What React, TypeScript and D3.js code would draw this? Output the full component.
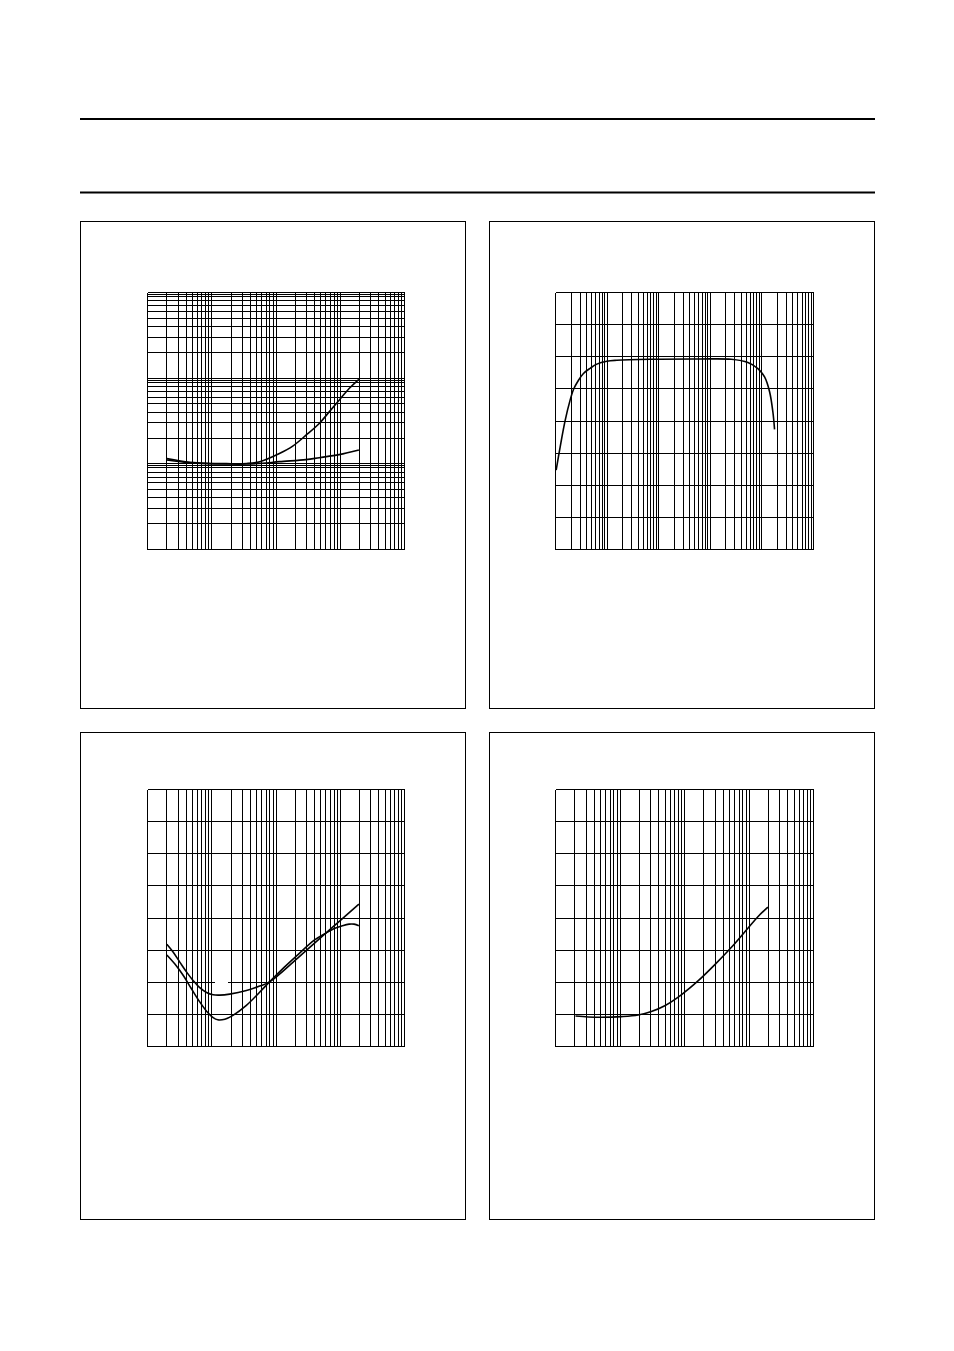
import React from "react";
import * as d3 from "d3";

// ---------- data ----------
// Panel 1 (top-left): log x (1..1e4), log y (1..1000)
const p1UpperX = [2, 2.85, 4.6, 8.3, 17, 35, 56, 113, 182, 293, 471, 673, 961, 1374, 1950];
const p1UpperY = [11.5, 11.0, 10.45, 10.15, 10.05, 10.1, 10.6, 13.2, 16.1, 21.6, 29.6, 40.4, 55.3, 75.7, 97];
const p1LowerX = [2, 4.6, 8.3, 17, 35, 62, 113, 293, 471, 961, 1950];
const p1LowerY = [11.1, 10.3, 10.05, 9.95, 9.95, 10.15, 10.6, 11.2, 11.8, 12.8, 14.5];

// Panel 2 (top-right): log x (1..1e5), linear y (0..8 divisions)
const p2X = [1.03, 1.23, 1.54, 1.92, 2.23, 2.79, 3.48, 4.69, 6.32, 9.88, 15.4, 68, 631, 2545, 5355, 8360, 11270, 14090, 16330, 17590];
const p2Y = [2.47, 3.19, 4.02, 4.65, 4.98, 5.27, 5.48, 5.64, 5.77, 5.86, 5.89, 5.92, 5.93, 5.92, 5.82, 5.63, 5.37, 4.91, 4.28, 3.74];

// Panel 3 (bottom-left): log x (1..1e4), linear y (0..8)
const p3AX = [2, 2.5, 3.2, 4.12, 5.15, 6.5, 8.3, 10.5, 13.3, 19, 34.6, 55.6, 79.3, 231, 673, 1950];
const p3AY = [3.18, 2.94, 2.62, 2.3, 2.05, 1.83, 1.68, 1.61, 1.6, 1.63, 1.74, 1.88, 2.01, 2.8, 3.62, 4.43];
const p3BX = [2, 2.69, 3.61, 4.75, 6.54, 8.3, 10.5, 12.4, 16, 21.4, 34.6, 55.6, 79.3, 135, 231, 394, 598, 805, 1082, 1374, 1641, 1950];
const p3BY = [2.85, 2.56, 2.21, 1.82, 1.38, 1.1, 0.9, 0.83, 0.85, 0.97, 1.28, 1.69, 2.01, 2.47, 2.9, 3.31, 3.53, 3.67, 3.76, 3.81, 3.81, 3.76];
const p3GapLine = 2;
const p3GapX: [number, number] = [11.2, 17.9];

// Panel 4 (bottom-right): log x (1..1e4), linear y (0..8)
const p4X = [2.04, 3.21, 5.15, 10.5, 19.1, 30.6, 49.4, 89.2, 162, 293, 530, 961, 1374, 1963];
const p4Y = [0.95, 0.92, 0.91, 0.93, 0.98, 1.09, 1.27, 1.61, 2.04, 2.54, 3.08, 3.68, 4.04, 4.34];

// grid tick definitions
const logMultiples = [1, 2, 3, 4, 5, 6, 7, 8, 9];
const p1ExtraMultiples = [9.5];
const linearDivisions = [0, 1, 2, 3, 4, 5, 6, 7, 8];

// ---------- layout ----------
const W = 954;
const H = 1351;

function logGrid(lo: number, hi: number, extra: number[] = []) {
  const out: number[] = [];
  const d0 = Math.round(Math.log10(lo));
  const d1 = Math.round(Math.log10(hi));
  for (let d = d0; d < d1; d++) {
    for (const k of logMultiples) out.push(k * Math.pow(10, d));
    for (const k of extra) out.push(k * Math.pow(10, d));
  }
  out.push(hi);
  return out;
}

type Series = { x: number[]; y: number[] };
type Panel = {
  box: [number, number, number, number];
  plot: [number, number, number, number];
  xDomain: [number, number];
  yLog: boolean;
  yDomain: [number, number];
  yExtra?: number[];
  series: Series[];
  gap?: { y: number; x: [number, number] };
};

const panels: Panel[] = [
  {
    box: [80.5, 221.5, 385, 487],
    plot: [147.5, 292.5, 257, 257],
    xDomain: [1, 1e4],
    yLog: true,
    yDomain: [1, 1000],
    yExtra: p1ExtraMultiples,
    series: [
      { x: p1UpperX, y: p1UpperY },
      { x: p1LowerX, y: p1LowerY },
    ],
  },
  {
    box: [489.5, 221.5, 385, 487],
    plot: [555.5, 292.5, 258, 257],
    xDomain: [1, 1e5],
    yLog: false,
    yDomain: [0, 8],
    series: [{ x: p2X, y: p2Y }],
  },
  {
    box: [80.5, 732.5, 385, 487],
    plot: [147.5, 789.5, 257, 257],
    xDomain: [1, 1e4],
    yLog: false,
    yDomain: [0, 8],
    series: [
      { x: p3AX, y: p3AY },
      { x: p3BX, y: p3BY },
    ],
    gap: { y: p3GapLine, x: p3GapX },
  },
  {
    box: [489.5, 732.5, 385, 487],
    plot: [555.5, 789.5, 258, 257],
    xDomain: [1, 1e4],
    yLog: false,
    yDomain: [0, 8],
    series: [{ x: p4X, y: p4Y }],
  },
];

function PanelView({ p }: { p: Panel }) {
  const [px, py, pw, ph] = p.plot;
  const x = d3.scaleLog().domain(p.xDomain).range([px, px + pw]);
  const y: any = p.yLog
    ? d3.scaleLog().domain(p.yDomain).range([py + ph, py])
    : d3.scaleLinear().domain(p.yDomain).range([py + ph, py]);
  const xTicks = logGrid(p.xDomain[0], p.xDomain[1]);
  const yTicks = p.yLog ? logGrid(p.yDomain[0], p.yDomain[1], p.yExtra || []) : linearDivisions;
  const line = d3
    .line<[number, number]>()
    .x((d) => x(d[0]))
    .y((d) => y(d[1]))
    .curve(d3.curveCatmullRom.alpha(0.5));
  const [bx, by, bw, bh] = p.box;
  const gl = { stroke: "#000", strokeWidth: 1, shapeRendering: "crispEdges" as const };
  return (
    <g>
      <rect x={bx} y={by} width={bw} height={bh} fill="none" {...gl} />
      {xTicks.map((t, i) => (
        <line key={"vx" + i} x1={x(t)} x2={x(t)} y1={py} y2={py + ph} {...gl} />
      ))}
      {yTicks.map((t, i) => {
        if (p.gap && t === p.gap.y) {
          return (
            <g key={"hy" + i}>
              <line x1={px} x2={x(p.gap.x[0])} y1={y(t)} y2={y(t)} {...gl} />
              <line x1={x(p.gap.x[1])} x2={px + pw} y1={y(t)} y2={y(t)} {...gl} />
            </g>
          );
        }
        return <line key={"hy" + i} x1={px} x2={px + pw} y1={y(t)} y2={y(t)} {...gl} />;
      })}
      {p.series.map((s, i) => {
        const pts = s.x.map((v, j) => [v, s.y[j]] as [number, number]);
        return <path key={"s" + i} d={line(pts) || ""} fill="none" stroke="#000" strokeWidth={1.6} />;
      })}
    </g>
  );
}

export default function App() {
  return (
    <svg
      width={W}
      height={H}
      viewBox={`0 0 ${W} ${H}`}
      style={{ position: "absolute", left: 0, top: 0, background: "#fff" }}
    >
      <rect x={0} y={0} width={W} height={H} fill="#fff" />
      <line x1={80} x2={875} y1={119} y2={119} stroke="#000" strokeWidth={2} />
      <line x1={80} x2={875} y1={192.5} y2={192.5} stroke="#000" strokeWidth={2} />
      {panels.map((p, i) => (
        <PanelView key={i} p={p} />
      ))}
    </svg>
  );
}
